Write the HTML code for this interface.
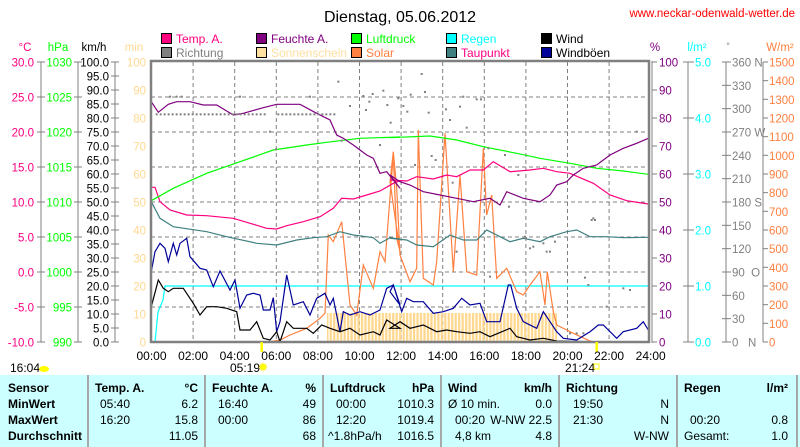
<!DOCTYPE html>
<html><head><meta charset="utf-8">
<style>
body{margin:0;background:#fff;width:800px;height:447px;overflow:hidden;font-family:"Liberation Sans",sans-serif;}
svg{position:absolute;left:0;top:0}
#tbl{position:absolute;left:0;top:375px;width:800px;height:72px;background:#ccffff;font-size:12px;}
#tbl div{position:absolute;white-space:nowrap}
.b{font-weight:bold}
.sep{position:absolute;top:0;width:2px;height:72px;background:#a8a8a8}
</style></head><body>
<svg id="s" width="800" height="375" xmlns="http://www.w3.org/2000/svg" font-family="Liberation Sans, sans-serif">
<defs>
<pattern id="sun" width="3.47" height="10" patternUnits="userSpaceOnUse"><rect x="0" y="0" width="2.3" height="10" fill="#ffd890"/></pattern>
</defs>
<text x="400" y="22" font-size="16" text-anchor="middle">Dienstag, 05.06.2012</text>
<text x="795" y="17" font-size="11.5" text-anchor="end" fill="#ff0000">www.neckar-odenwald-wetter.de</text>
<g font-size="12">
<rect x="161.5" y="33.5" width="10" height="10" fill="#ff0080" stroke="#000"/><text x="176" y="43" fill="#ff0080">Temp. A.</text>
<rect x="256.5" y="33.5" width="10" height="10" fill="#800080" stroke="#000"/><text x="271" y="43" fill="#800080">Feuchte A.</text>
<rect x="351.5" y="33.5" width="10" height="10" fill="#00ff00" stroke="#000"/><text x="366" y="43" fill="#00ff00">Luftdruck</text>
<rect x="446.5" y="33.5" width="10" height="10" fill="#00ffff" stroke="#000"/><text x="461" y="43" fill="#00ffff">Regen</text>
<rect x="541.5" y="33.5" width="10" height="10" fill="#000" stroke="#000"/><text x="556" y="43" fill="#000">Wind</text>
<rect x="161.5" y="47.5" width="10" height="10" fill="#808080" stroke="#000"/><text x="176" y="57" fill="#808080">Richtung</text>
<rect x="256.5" y="47.5" width="10" height="10" fill="#ffe0a0" stroke="#000"/><text x="271" y="57" fill="#ffe0a0">Sonnenschein</text>
<rect x="351.5" y="47.5" width="10" height="10" fill="#ff8040" stroke="#000"/><text x="366" y="57" fill="#ff8040">Solar</text>
<rect x="446.5" y="47.5" width="10" height="10" fill="#408080" stroke="#000"/><text x="461" y="57" fill="#ff0080">Taupunkt</text>
<rect x="541.5" y="47.5" width="10" height="10" fill="#000099" stroke="#000"/><text x="556" y="57" fill="#000">Windböen</text>
</g>
<g font-size="11.5">
<text x="25" y="51" fill="#ff0080" text-anchor="middle">°C</text>
<text x="58" y="51" fill="#00ff00" text-anchor="middle">hPa</text>
<text x="94" y="51" fill="#000" text-anchor="middle">km/h</text>
<text x="134" y="51" fill="#ffd890" text-anchor="middle">min</text>
<text x="655" y="51" fill="#800080" text-anchor="middle">%</text>
<text x="697" y="51" fill="#00ffff" text-anchor="middle">l/m²</text>
<text x="728" y="49" fill="#808080" text-anchor="middle" font-size="9">°</text>
<text x="780" y="51" fill="#ff8040" text-anchor="middle">W/m²</text>
</g>
<g id="axes" font-size="11.5"></g>
<g id="grid" stroke="#808080" stroke-dasharray="4,3" stroke-width="1"></g>
<rect x="327" y="313" width="230" height="29" fill="url(#sun)"/>
<g id="series" fill="none" stroke-width="1.2"></g>
<rect x="151" y="61" width="498" height="281" fill="none" stroke="#808080" stroke-width="2.5"/>
<line x1="652" y1="61" x2="652" y2="343" stroke="#808080" stroke-width="1"/>
<line x1="261.7" y1="342" x2="261.7" y2="352" stroke="#ffff00" stroke-width="2.5"/>
<line x1="596.7" y1="342" x2="596.7" y2="352" stroke="#ffff00" stroke-width="2.5"/>
<g id="xl" font-size="12" text-anchor="middle"></g>
<text x="10" y="372" font-size="12">16:04</text>
<ellipse cx="44" cy="369" rx="5" ry="3" fill="#ffff00"/>
<text x="245" y="372" font-size="12" text-anchor="middle">05:19</text>
<circle cx="263" cy="367" r="3.5" fill="#ffff00" stroke="#ffee66" stroke-width="1.5" stroke-dasharray="1,1"/>
<text x="580" y="372" font-size="12" text-anchor="middle">21:24</text>
<rect x="594" y="364" width="5" height="5" fill="none" stroke="#ffff00"/>
</svg>
<div id="tbl">
<div class="sep" style="left:87px"></div><div class="sep" style="left:204px"></div><div class="sep" style="left:322px"></div><div class="sep" style="left:440px"></div><div class="sep" style="left:558px"></div><div class="sep" style="left:676px"></div><div class="sep" style="left:796px"></div>
<div class="b" style="left:8px;top:6px">Sensor</div><div class="b" style="left:8px;top:22px">MinWert</div><div class="b" style="left:8px;top:38px">MaxWert</div><div class="b" style="left:8px;top:54px">Durchschnitt</div>
<div class="b" style="left:95px;top:6px">Temp. A.</div><div class="b" style="right:602px;top:6px">°C</div>
<div style="left:100px;top:22px">05:40</div><div style="right:602px;top:22px">6.2</div>
<div style="left:100px;top:38px">16:20</div><div style="right:602px;top:38px">15.8</div>
<div style="right:602px;top:54px">11.05</div>
<div class="b" style="left:212px;top:6px">Feuchte A.</div><div class="b" style="right:484px;top:6px">%</div>
<div style="left:218px;top:22px">16:40</div><div style="right:484px;top:22px">49</div>
<div style="left:218px;top:38px">00:00</div><div style="right:484px;top:38px">86</div>
<div style="right:484px;top:54px">68</div>
<div class="b" style="left:330px;top:6px">Luftdruck</div><div class="b" style="right:366px;top:6px">hPa</div>
<div style="left:336px;top:22px">00:00</div><div style="right:366px;top:22px">1010.3</div>
<div style="left:336px;top:38px">12:20</div><div style="right:366px;top:38px">1019.4</div>
<div style="left:328px;top:54px">^1.8hPa/h</div><div style="right:366px;top:54px">1016.5</div>
<div class="b" style="left:448px;top:6px">Wind</div><div class="b" style="right:248px;top:6px">km/h</div>
<div style="left:448px;top:22px">Ø 10 min.</div><div style="right:248px;top:22px">0.0</div>
<div style="left:455px;top:38px">00:20</div><div style="right:248px;top:38px">W-NW 22.5</div>
<div style="left:455px;top:54px">4,8 km</div><div style="right:248px;top:54px">4.8</div>
<div class="b" style="left:566px;top:6px">Richtung</div>
<div style="left:573px;top:22px">19:50</div><div style="right:131px;top:22px">N</div>
<div style="left:573px;top:38px">21:30</div><div style="right:131px;top:38px">N</div>
<div style="right:131px;top:54px">W-NW</div>
<div class="b" style="left:684px;top:6px">Regen</div><div class="b" style="right:12px;top:6px">l/m²</div>
<div style="left:690px;top:38px">00:20</div><div style="right:12px;top:38px">0.8</div>
<div style="left:684px;top:54px">Gesamt:</div><div style="right:12px;top:54px">1.0</div>
</div>
<script>
var NS="http://www.w3.org/2000/svg";
function el(p,t,a,txt){var e=document.createElementNS(NS,t);for(var k in a)e.setAttribute(k,a[k]);if(txt!==undefined)e.textContent=txt;document.getElementById(p).appendChild(e);return e;}
for(var i=1;i<12;i++){var x=151.5+i*41.6;el('grid','line',{x1:x,y1:62,x2:x,y2:342});}
for(var j=1;j<8;j++){var y=62+j*35;el('grid','line',{x1:151,y1:y,x2:649,y2:y});}
for(var i=0;i<=12;i++){el('xl','text',{x:151.5+i*41.6,y:360},(i*2<10?'0':'')+(i*2)+':00');}
function vline(x){el('axes','line',{x1:x,y1:62,x2:x,y2:342,stroke:'#808080'});}
vline(41);vline(78);vline(115);
var c=['30.0','25.0','20.0','15.0','10.0','5.0','0.0','-5.0','-10.0'],h=['1030','1025','1020','1015','1010','1005','1000','995','990'];
for(var j=0;j<=8;j++){var y=62+j*35;
 el('axes','line',{x1:37,y1:y,x2:45,y2:y,stroke:'#808080'});el('axes','line',{x1:74,y1:y,x2:82,y2:y,stroke:'#808080'});
 el('axes','text',{x:34,y:y+4.5,fill:'#ff0080','text-anchor':'end'},c[j]);
 el('axes','text',{x:72,y:y+4.5,fill:'#00ff00','text-anchor':'end'},h[j]);}
for(var j=0;j<=20;j++){var y=62+j*14;el('axes','line',{x1:111,y1:y,x2:119,y2:y,stroke:'#808080'});
 el('axes','text',{x:109,y:y+4.5,fill:'#000','text-anchor':'end'},(100-j*5).toFixed(1));}
for(var j=0;j<=10;j++){var y=62+j*28;el('axes','text',{x:146,y:y+4.5,fill:'#ffd890','text-anchor':'end'},100-j*10);}
vline(652);vline(688);vline(726);vline(763);
for(var j=0;j<=10;j++){var y=62+j*28;el('axes','line',{x1:652,y1:y,x2:657,y2:y,stroke:'#808080'});el('axes','text',{x:659,y:y+4.5,fill:'#800080'},100-j*10);}
for(var j=0;j<=5;j++){var y=62+j*56;el('axes','line',{x1:683,y1:y,x2:694,y2:y,stroke:'#808080'});el('axes','text',{x:695,y:y+4.5,fill:'#00ffff'},(5-j).toFixed(1));}
var d=['360 N','330','300','270 W','240','210','180 S','150','120','90  O','60','30','0   N'];
for(var j=0;j<=12;j++){var y=62+j*280/12;el('axes','line',{x1:722,y1:y,x2:731,y2:y,stroke:'#808080'});var t=el('axes','text',{x:732,y:y+4.5,fill:'#808080'},d[j]);t.style.whiteSpace='pre';}
for(var j=0;j<=15;j++){var y=62+j*280/15;el('axes','line',{x1:763,y1:y,x2:768,y2:y,stroke:'#808080'});el('axes','text',{x:769,y:y+4.5,fill:'#ff8040'},1500-j*100);}
function Z5(a){return a.map(function(p){return [140+p[0]/3,55+p[1]/3];});}
function Z6(a){return a.map(function(p){return [390+p[0]/3,55+p[1]/3];});}
function line(pts,col,w){el('series','polyline',{points:pts.map(function(p){return p[0].toFixed(1)+','+p[1].toFixed(1)}).join(' '),stroke:col,'stroke-width':w||1.2});}
line([[152,342],[155,342],[158,312],[163,300],[165,286],[649,286]],'#00ffff');
line(Z5([[390,860],[420,855],[450,840],[500,820],[540,790],[555,775],[565,540],[580,560],[605,500],[630,750],[650,780],[670,630],[700,700],[720,590],[735,620],[760,300],[770,550],[780,590]]).concat(Z6([[0,380],[10,290],[20,400],[30,600],[60,680],[80,640],[85,225],[100,670],[130,690],[140,620],[165,235],[190,650],[210,360],[230,650],[260,660],[280,280],[290,480],[305,420],[320,670],[350,640],[380,710],[400,720],[420,690],[450,650],[465,750],[472,650],[490,770],[500,810],[540,830],[600,858],[610,860]])),'#ff8040');
line(Z5([[34,650],[45,590],[60,565],[75,580],[85,620],[100,565],[110,600],[120,565],[140,550],[150,605],[180,640],[200,645],[220,695],[240,648],[270,705],[285,675],[300,760],[320,720],[340,715],[360,720],[370,765],[390,765],[400,728],[410,830],[420,800],[440,660],[460,750],[490,740],[510,780],[530,730],[555,715],[570,750],[580,730],[600,830],[610,770],[630,780],[660,770],[690,780],[720,765],[740,700],[760,690],[780,750]]).concat(Z6([[0,710],[10,690],[35,770],[50,730],[70,740],[100,740],[130,775],[160,770],[190,760],[215,730],[240,750],[270,745],[290,800],[330,800],[355,690],[362,690],[380,760],[400,800],[440,820],[460,770],[480,800],[500,830],[520,850],[560,855],[600,830],[625,810],[640,810],[680,850],[700,830],[740,820],[760,800],[775,825]])),'#000099');
line(Z5([[34,755],[55,675],[70,700],[85,710],[100,700],[130,700],[160,745],[180,780],[200,755],[230,755],[260,760],[290,770],[300,825],[330,825],[350,800],[370,850],[390,855],[410,830],[420,860],[440,800],[460,820],[500,820],[520,835],[545,810],[570,820],[600,830],[630,820],[660,840],[700,830],[720,840],[740,795],[780,820]]).concat(Z6([[0,820],[30,800],[60,820],[100,810],[140,830],[170,825],[200,830],[240,835],[270,830],[300,845],[360,820],[380,845],[420,855],[460,850],[500,858],[600,860]])),'#000');
line(Z5([[34,440],[60,490],[100,515],[200,530],[260,545],[350,565],[410,570],[470,555],[520,548],[560,545],[600,530],[640,540],[700,548],[720,565],[750,548],[780,552]]).concat(Z6([[0,550],[50,555],[80,570],[130,575],[180,540],[220,555],[260,555],[290,525],[330,545],[360,560],[400,550],[450,560],[480,545],[530,530],[560,525],[600,545],[650,545],[700,548],[775,547]])),'#408080');
line(Z5([[34,397],[45,397],[60,440],[90,465],[140,480],[200,482],[280,490],[330,505],[380,520],[410,522],[440,512],[490,500],[540,485],[580,460],[605,430],[640,432],[680,420],[720,408],[760,385],[780,377]]).concat(Z6([[0,375],[50,378],[80,365],[130,372],[170,360],[200,365],[240,345],[280,345],[310,320],[360,350],[420,345],[460,340],[500,350],[540,355],[570,368],[610,385],[660,420],[710,437],[775,447]])),'#ff0080');
line(Z5([[34,437],[100,400],[200,355],[300,320],[400,285],[500,270],[560,262],[660,250],[780,246]]).concat(Z6([[0,248],[120,243],[200,255],[280,275],[380,295],[450,310],[540,325],[620,340],[700,348],[775,358]])),'#00ff00');
line(Z5([[34,140],[55,172],[85,148],[110,140],[150,140],[190,150],[230,150],[280,180],[310,175],[370,158],[410,148],[480,148],[530,175],[570,195],[590,240],[610,250],[640,270],[660,285],[680,300],[700,310],[720,355],[740,350],[760,375],[780,400]]).concat(Z6([[0,360],[30,380],[60,390],[100,410],[150,420],[200,430],[250,440],[300,430],[330,450],[350,410],[400,430],[450,440],[480,420],[500,390],[530,380],[550,360],[580,340],[620,330],[660,300],[700,280],[740,265],[775,250]])),'#800080');
var dots=[[565,65],[815,42],[640,108],[668,102],[700,92],[745,115],[782,104],[825,96],[600,138],[658,125],[712,135],[760,138],[648,150],[772,155],[836,158],[888,148],[930,140],[940,110],[980,118],[993,118],[722,188],[900,180],[950,203],[690,255],[845,288],[857,300],[1015,265],[1065,285],[795,315],[1105,345],[908,368],[1077,440],[1128,535],[1180,550],[1200,575],[1215,545],[1150,560],[1325,480],[1335,480],[1460,215],[575,242],[378,268],[360,215],[60,110],[80,110],[95,110],[270,110],[480,110]];
for(var zx=20;zx<350;zx+=12)dots.push([zx,163]);for(var zx=385;zx<560;zx+=12)dots.push([zx,163]);
dots.forEach(function(p){el('series','rect',{x:150+p[0]/3-1,y:60+p[1]/3-1,width:2,height:2,fill:'#808080',stroke:'none'});});
[[610,490],[420,580],[470,590],[405,545],[300,665],[200,590],[585,668],[595,690],[700,700],[720,705],[650,755],[560,835],[580,835],[540,835]].forEach(function(p){el('series','rect',{x:390+p[0]/3-1,y:55+p[1]/3-1,width:2,height:2,fill:'#808080',stroke:'none'});});
</script>
</body></html>
